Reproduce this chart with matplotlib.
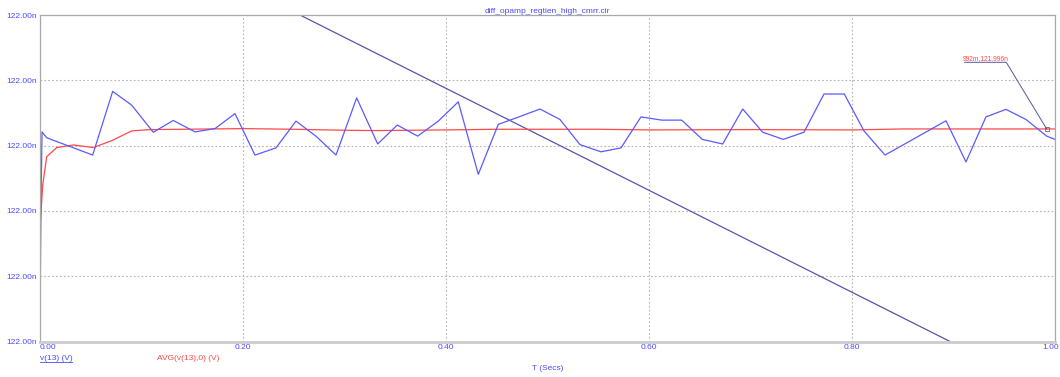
import numpy as np
import matplotlib.pyplot as plt
from matplotlib.ticker import FixedLocator, FuncFormatter
from matplotlib.transforms import offset_copy

plt.rcParams['font.family'] = ['Liberation Sans', 'DejaVu Sans']

# v(13) transient samples (time in s, voltage in nV)
t_v13 = [0.0, 0.001, 0.002, 0.0066, 0.0519, 0.0716, 0.0903, 0.1116, 0.1313, 0.1527,
         0.1724, 0.1921, 0.2118, 0.2325, 0.2522, 0.2726, 0.2916, 0.3120, 0.3327, 0.3520,
         0.3721, 0.3924, 0.4121, 0.4318, 0.4515, 0.4719, 0.4926, 0.5123, 0.5320, 0.5527,
         0.5724, 0.5921, 0.6125, 0.6322, 0.6525, 0.6726, 0.6923, 0.7120, 0.7323, 0.7527,
         0.7724, 0.7924, 0.8118, 0.8325, 0.8926, 0.9123, 0.9320, 0.9517, 0.9714, 0.9918, 1.0]
v13 = [121.995423, 121.995778, 121.995992, 121.995974, 121.995921, 121.996116, 121.996074,
       121.995991, 121.996027, 121.995992, 121.996002, 121.996048, 121.995921, 121.995943,
       121.996025, 121.995977, 121.995921, 121.996096, 121.995955, 121.996013, 121.995979,
       121.996025, 121.996084, 121.995862, 121.996015, 121.996038, 121.996062, 121.996030,
       121.995953, 121.995931, 121.995943, 121.996038, 121.996028, 121.996028, 121.995969,
       121.995955, 121.996062, 121.995991, 121.995969, 121.995991, 121.996108, 121.996108,
       121.995995, 121.995921, 121.996026, 121.995900, 121.996038, 121.996061, 121.996030,
       121.995979, 121.995969]

# running average AVG(v(13),0)
t_avg = [0.0, 0.0027, 0.0066, 0.0165, 0.0328, 0.0525, 0.0706, 0.0903, 0.1084, 0.2,
         0.25, 0.3, 0.33, 0.4, 0.45, 0.55, 0.6, 0.7, 0.8, 0.85, 1.0]
v_avg = [121.995698, 121.995830, 121.995916, 121.995944, 121.995952, 121.995944, 121.995965,
         121.995995, 121.995999, 121.996002, 121.996000, 121.995997, 121.995996, 121.995998,
         121.996000, 121.996000, 121.995998, 121.995999, 121.995998, 121.996001, 121.996001]

# straight trace crossing the window
t_diag = [0.2561, 0.8966]
v_diag = [121.99635, 121.99535]

cursor_t = 0.992
cursor_v = 121.996

y_lo, y_hi = 121.99535, 121.99635
y_ticks = np.linspace(y_lo, y_hi, 6)
x_ticks = [0.0, 0.2, 0.4, 0.6, 0.8, 1.0]

blue = '#5a5aff'
red = '#ff4848'
navy = '#5555a8'
lab = '#4a4aff'

fig = plt.figure(figsize=(10.6, 3.77), dpi=100)
ax = fig.add_axes([40 / 1060, 35.5 / 377, 1015 / 1060, 326.5 / 377])

ax.plot(t_diag, v_diag, color=navy, lw=0.9)
ax.plot(t_avg, v_avg, color=red, lw=0.9)
ax.plot(t_v13, v13, color=blue, lw=0.9)

ax.set_xlim(0, 1)
ax.set_ylim(y_lo, y_hi)
ax.yaxis.set_major_locator(FixedLocator(y_ticks))
ax.xaxis.set_major_locator(FixedLocator(x_ticks))
ax.yaxis.set_major_formatter(FuncFormatter(lambda v, p: '%.2fn' % v))
ax.xaxis.set_major_formatter(FuncFormatter(lambda v, p: '%.2f' % v))
ax.grid(True, color='#b4b4b4', linestyle=(0, (1.5, 2)), lw=0.8)
ax.tick_params(length=0, labelsize=6, labelcolor=lab, pad=2)
xlabels = ax.get_xticklabels()
xlabels[0].set_horizontalalignment('left')
xlabels[-1].set_horizontalalignment('right')
xlabels[-1].set_transform(offset_copy(xlabels[-1].get_transform(), fig=fig, x=4, units='dots'))

for side in ['top', 'right', 'left']:
    ax.spines[side].set_color('#a8a8a8')
    ax.spines[side].set_linewidth(0.9)
ax.spines['bottom'].set_color('#cccccc')
ax.spines['bottom'].set_linewidth(2)

ax.set_title('diff_opamp_regtien_high_cmrr.cir', fontsize=6, color=lab, pad=1.5)
ax.set_xlabel('T (Secs)', fontsize=6, color=lab, labelpad=10)

fig.text(40 / 1060, 1 - 358 / 377, 'v(13) (V)', fontsize=6, color=lab, va='center')
fig.add_artist(plt.Line2D([40 / 1060, 72 / 1060], [1 - 362 / 377] * 2, color=lab, lw=0.6))
fig.text(157 / 1060, 1 - 358 / 377, 'AVG(v(13),0) (V)', fontsize=6, color=red, va='center')

# cursor readout on the AVG trace
ax.plot([cursor_t], [cursor_v], marker='s', ms=2.5, mfc='none', mec='#666666', mew=0.6)
lab_x, lab_y = 0.952, y_hi - (62.3 - 15) / 326.5 * (y_hi - y_lo)
ax.plot([0.911, lab_x, cursor_t], [lab_y, lab_y, cursor_v], color=navy, lw=0.7, clip_on=False)
ax.text(0.9315, lab_y, '%.0fm,%.3fn' % (cursor_t * 1000, cursor_v), fontsize=4.8,
        color=red, ha='center', va='bottom')

fig.savefig('out.png', dpi=100)
